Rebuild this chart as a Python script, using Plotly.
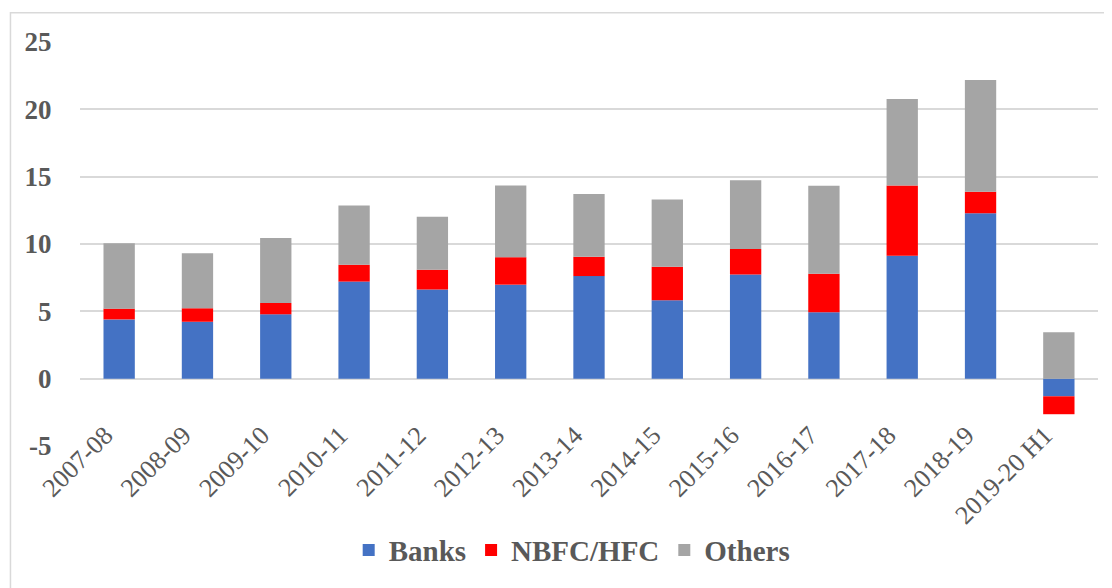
import plotly.graph_objects as go

categories = ["2007-08", "2008-09", "2009-10", "2010-11", "2011-12", "2012-13",
              "2013-14", "2014-15", "2015-16", "2016-17", "2017-18", "2018-19", "2019-20 H1"]
banks = [4.40, 4.22, 4.78, 7.21, 6.63, 6.98, 7.62, 5.82, 7.74, 4.93, 9.12, 12.28, -1.31]
nbfc_hfc = [0.80, 1.01, 0.84, 1.25, 1.46, 2.04, 1.43, 2.49, 1.88, 2.86, 5.23, 1.60, -1.33]
others = [4.86, 4.09, 4.83, 4.39, 3.94, 5.33, 4.66, 5.00, 5.12, 6.53, 6.41, 8.29, 3.45]

y_min, y_max = -5, 25
y_ticks = [-5, 0, 5, 10, 15, 20, 25]
y_tick_text = ["-5", "0", "5", "10", "15", "20", "25"]

TEXT = "#595959"
FONT = "Liberation Serif"

fig = go.Figure()
fig.add_trace(go.Bar(name="Banks", x=categories, y=banks, marker_color="#4472C4"))
fig.add_trace(go.Bar(name="NBFC/HFC", x=categories, y=nbfc_hfc, marker_color="#FF0000"))
fig.add_trace(go.Bar(name="Others", x=categories, y=others, marker_color="#A5A5A5"))

fig.update_traces(marker_line_width=0)

# page body has an 8px margin; the figure is sized/offset to compensate
fig.update_layout(
    barmode="relative",
    bargap=0.6,
    width=1104, height=580,
    margin=dict(l=72, r=14, t=34, b=132),
    paper_bgcolor="white", plot_bgcolor="white",
    font=dict(family=FONT, color=TEXT),
    showlegend=True,
    legend=dict(orientation="h", x=0.483, xanchor="center", y=-0.258, yanchor="middle",
                font=dict(family=FONT, size=29, color=TEXT, weight="bold"),
                traceorder="normal", itemwidth=30),
    xaxis=dict(
        type="category",
        anchor="free",
        position=(0 - y_min) / (y_max - y_min),
        tickangle=-45,
        tickfont=dict(family=FONT, size=26, color=TEXT),
        ticks="outside", ticklen=30, tickcolor="rgba(0,0,0,0)",
        ticklabelshift=-14,
        showline=False, showgrid=False,
    ),
    yaxis=dict(
        range=[y_min, y_max],
        tickvals=y_ticks,
        ticktext=y_tick_text,
        tickfont=dict(family=FONT, size=27, color=TEXT, weight="bold"),
        showgrid=True, gridcolor="#D9D9D9", gridwidth=1.5,
        zeroline=True, zerolinecolor="#D9D9D9", zerolinewidth=1.5,
        ticks="outside", ticklen=22, tickcolor="rgba(0,0,0,0)",
        showline=False,
    ),
    shapes=[dict(type="rect", xref="paper", yref="paper",
                 x0=-0.0683, x1=1.1, y0=-0.5, y1=1.0727,
                 line=dict(color="#D9D9D9", width=1.5), fillcolor="rgba(0,0,0,0)",
                 layer="below")],
)

fig.write_html("out.html")
